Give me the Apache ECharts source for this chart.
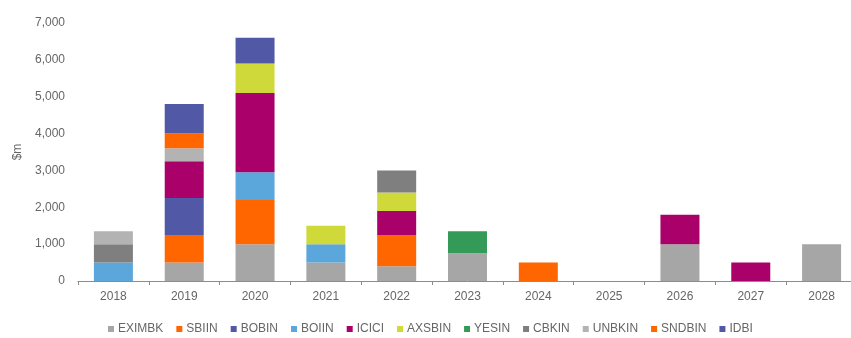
<!DOCTYPE html>
<html>
<head>
<meta charset="utf-8">
<script src="https://cdn.jsdelivr.net/npm/echarts@6/dist/echarts.min.js"></script>
<style>
  html, body { margin: 0; padding: 0; background: #fff; overflow: hidden; }
  /* the plot area runs a few pixels past the right edge of the page */
  #chart { width: 857px; height: 338px; }
</style>
</head>
<body>
<div id="chart"></div>
<script>
// Maturity profile by issuer, $m per year
const years = ['2018', '2019', '2020', '2021', '2022', '2023', '2024', '2025', '2026', '2027', '2028'];
const yTicks = [0, 1000, 2000, 3000, 4000, 5000, 6000, 7000];

const EXIMBK = [0, 500, 1000, 500, 400, 750, 0, 0, 1000, 0, 1000];
const SBIIN  = [0, 750, 1200, 0, 850, 0, 500, 0, 0, 0, 0];
const BOBIN  = [0, 1000, 0, 0, 0, 0, 0, 0, 0, 0, 0];
const BOIIN  = [500, 0, 750, 500, 0, 0, 0, 0, 0, 0, 0];
const ICICI  = [0, 1000, 2150, 0, 650, 0, 0, 0, 800, 500, 0];
const AXSBIN = [0, 0, 800, 500, 500, 0, 0, 0, 0, 0, 0];
const YESIN  = [0, 0, 0, 0, 0, 600, 0, 0, 0, 0, 0];
const CBKIN  = [500, 0, 0, 0, 600, 0, 0, 0, 0, 0, 0];
const UNBKIN = [350, 350, 0, 0, 0, 0, 0, 0, 0, 0, 0];
const SNDBIN = [0, 400, 0, 0, 0, 0, 0, 0, 0, 0, 0];
const IDBI   = [0, 800, 700, 0, 0, 0, 0, 0, 0, 0, 0];

const issuers = [
  { name: 'EXIMBK', data: EXIMBK, color: '#a6a6a6' },
  { name: 'SBIIN',  data: SBIIN,  color: '#ff6600' },
  { name: 'BOBIN',  data: BOBIN,  color: '#5158a5' },
  { name: 'BOIIN',  data: BOIIN,  color: '#5ba7dc' },
  { name: 'ICICI',  data: ICICI,  color: '#aa0069' },
  { name: 'AXSBIN', data: AXSBIN, color: '#cfd93a' },
  { name: 'YESIN',  data: YESIN,  color: '#349a57' },
  { name: 'CBKIN',  data: CBKIN,  color: '#7f7f7f' },
  { name: 'UNBKIN', data: UNBKIN, color: '#b3b3b3' },
  { name: 'SNDBIN', data: SNDBIN, color: '#ff6600' },
  { name: 'IDBI',   data: IDBI,   color: '#5158a5' }
];

const font = 'Liberation Sans, Arial, sans-serif';
const textColor = '#666666';

const chart = echarts.init(document.getElementById('chart'), null, { renderer: 'canvas' });
chart.setOption({
  animation: false,
  backgroundColor: '#ffffff',
  textStyle: { fontFamily: font },
  grid: { left: 78, top: 23, right: 0, bottom: 57, containLabel: false },
  legend: {
    top: 318,
    left: 103,
    icon: 'rect',
    itemWidth: 6,
    itemHeight: 6,
    itemGap: 13,
    textStyle: { color: textColor, fontSize: 12, fontFamily: font, padding: [0, 0, 0, -1] },
    data: issuers.map(s => s.name)
  },
  xAxis: {
    type: 'category',
    data: years,
    axisLine: { lineStyle: { color: '#8c8c8c', width: 1 } },
    axisTick: { show: true, length: 4, lineStyle: { color: '#8c8c8c' } },
    axisLabel: { color: textColor, fontSize: 12, margin: 10 }
  },
  yAxis: {
    type: 'value',
    min: yTicks[0],
    max: yTicks[yTicks.length - 1],
    interval: 1000,
    name: '$m',
    nameLocation: 'middle',
    nameGap: 46,
    nameRotate: 90,
    nameTextStyle: { color: textColor, fontSize: 12 },
    axisLine: { show: false },
    axisTick: { show: false },
    splitLine: { show: false },
    axisLabel: {
      color: textColor,
      fontSize: 12,
      margin: 13,
      formatter: v => v.toLocaleString('en-US')
    }
  },
  series: issuers.map(s => ({
    name: s.name,
    type: 'bar',
    stack: 'total',
    barWidth: 39,
    data: s.data.map(v => (v === 0 ? null : v)),
    itemStyle: { color: s.color }
  }))
});
</script>
</body>
</html>
